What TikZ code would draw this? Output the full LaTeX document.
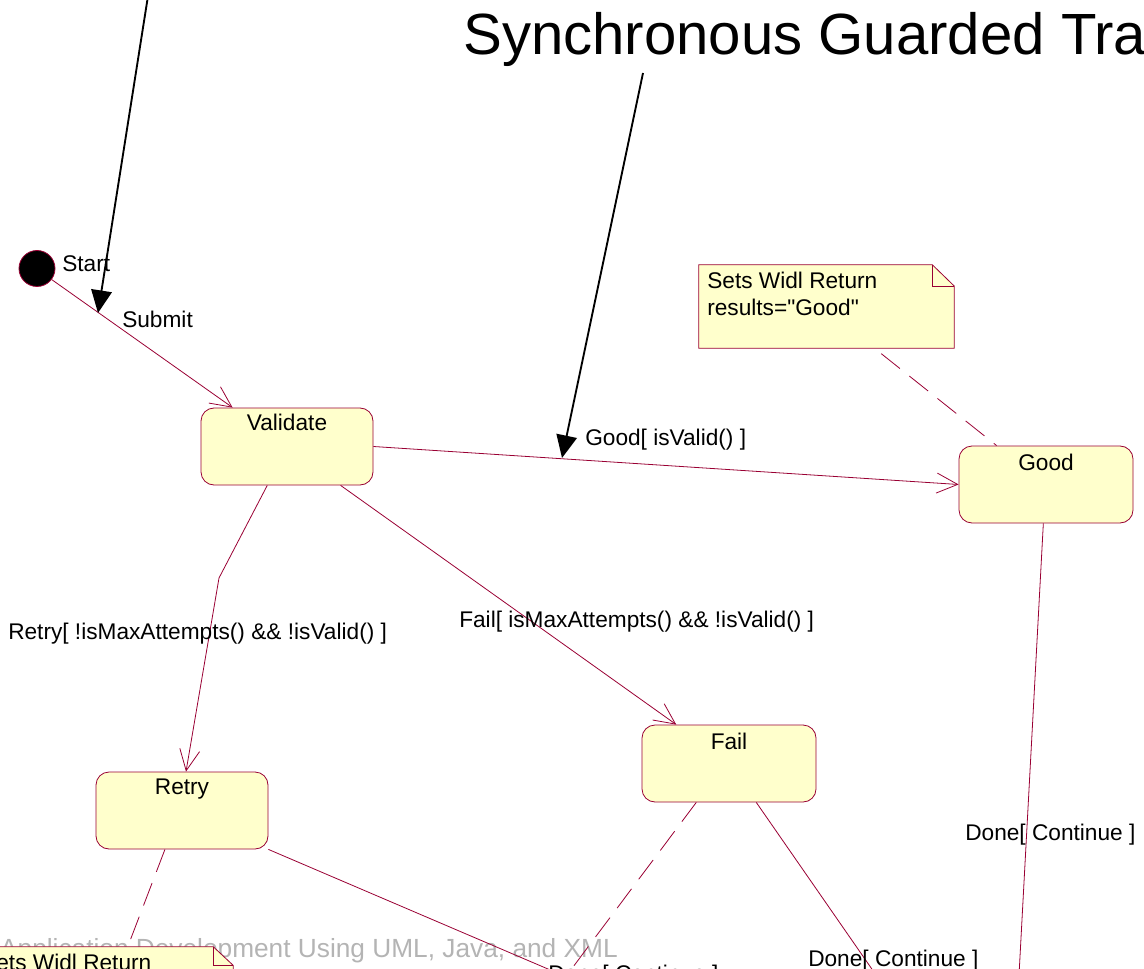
\documentclass[tikz,border=0pt]{standalone}
\usepackage{fontspec}
\setmainfont{Liberation Sans}[Ligatures=TeXOff]
\usetikzlibrary{arrows.meta,calc}
\definecolor{umlline}{RGB}{153,0,51}
\definecolor{umlfill}{RGB}{255,255,204}
\definecolor{wmgray}{RGB}{180,180,180}
\begin{document}
\begin{tikzpicture}[x=0.75pt,y=-0.75pt,
  lbl/.style={inner sep=0pt, font=\fontsize{17}{20}\selectfont, text=black},
  statebox/.style={draw=umlline, fill=umlfill, rounded corners=9.75pt, line width=0.6pt,
    minimum width=129pt, minimum height=57.75pt, inner sep=0pt},
  trans/.style={draw=umlline, line width=0.6pt,
    -{Straight Barb[length=15.75pt,width=15pt]}},
  link/.style={draw=umlline, line width=0.6pt},
  anchorlink/.style={draw=umlline, line width=0.6pt, dash pattern=on 18pt off 9pt},
  notebox/.style={draw=umlline, fill=umlfill, line width=0.6pt},
  notearea/.style={minimum width=191.25pt, minimum height=62.25pt, inner sep=0pt},
  pointer/.style={draw=black, line width=1.4pt, -{Triangle[length=17pt,width=15.5pt]}},
]
\useasboundingbox (0,0) rectangle (1144,969);

% watermark of the slide
\node[anchor=base east, inner sep=0pt, font=\fontsize{19.7}{22}\selectfont, text=wmgray]
  (wm) at (618,957) {Application Development Using UML, Java, and XML};

% slide title
\node[anchor=base west, inner sep=0pt, font=\fontsize{43.6}{50}\selectfont]
  (title) at (463,55) {Synchronous Guarded Transitions};

% states
\node[circle, draw=umlline, fill=black, minimum size=27pt, inner sep=0pt, line width=0.6pt]
  (start) at (37,268.5) {};
\node[statebox] (validate) at (287,446.5) {};
\node[statebox, minimum width=130.5pt] (good) at (1046,484.5) {};
\node[statebox] (retry) at (182,810.5) {};
\node[statebox, minimum width=130.5pt] (fail) at (729,763.5) {};

\node[lbl, anchor=base] (validateName) at (287,430) {Validate};
\node[lbl, anchor=base] (goodName) at (1046,470) {Good};
\node[lbl, anchor=base] (retryName) at (182,794) {Retry};
\node[lbl, anchor=base] (failName) at (729,749) {Fail};
\node[lbl, anchor=base west] (startName) at (62,272) {Start};

% notes
\node[notearea] (note1) at (826.5,306.5) {};
\draw[notebox] (note1.north west) -- ([xshift=-16.5pt]note1.north east)
  -- ([yshift=-16pt]note1.north east) -- (note1.south east) -- (note1.south west) -- cycle;
\draw[link] ([xshift=-16.5pt]note1.north east) |- ([yshift=-16pt]note1.north east);
\node[lbl, anchor=base west] (note1a) at (707,289) {Sets Widl Return};
\node[lbl, anchor=base west] (note1b) at (707,316) {results="Good"};

\node[notearea, minimum width=190.5pt] (note2) at (106,988.5) {};
\draw[notebox] (note2.north west) -- ([xshift=-15pt]note2.north east)
  -- ([yshift=-14pt]note2.north east) -- (note2.south east) -- (note2.south west) -- cycle;
\draw[link] ([xshift=-15pt]note2.north east) |- ([yshift=-14pt]note2.north east);
\node[lbl, anchor=base west] (note2a) at (-19,970) {Sets Widl Return};

% transitions
\draw[trans] (start.-37) -- ([xshift=24pt]validate.north west);
\draw[trans] (validate.east) -- (good.west);
\coordinate (retryBend) at (219,578);
\draw[trans] ([xshift=50pt]validate.south west) -- (retryBend) -- ([xshift=3pt]retry.north);
\draw[trans] ([xshift=105pt]validate.south west) -- ([xshift=26pt]fail.north west);

\coordinate (goodOut) at (1019,975);
\draw[link] ([xshift=-2pt]good.south) -- (goodOut);
\coordinate (failOut) at (876,975);
\draw[link] ([xshift=86pt]fail.south west) -- (failOut);
\coordinate (retryOut) at (562,975);
\draw[link] (retry.south east) -- (retryOut);

% note anchors
\draw[anchorlink] ([xshift=41pt,yshift=-4pt]note1.south) -- ([xshift=28.5pt]good.north west);
\coordinate (failNote) at (567,975);
\draw[anchorlink] ([xshift=41pt]fail.south west) -- (failNote);
\draw[anchorlink] ([xshift=52pt]retry.south west) -- ([xshift=111.75pt]note2.north west);

% transition labels
\node[lbl, anchor=base west] (submitLbl) at (122,328) {Submit};
\node[lbl, anchor=base west] (goodLbl) at (585,445) {Good[ isValid() ]};
\node[lbl, anchor=base west] (retryLbl) at (8,639) {Retry[ !isMaxAttempts() \&\& !isValid() ]};
\node[lbl, anchor=base west] (failLbl) at (459,627) {Fail[ isMaxAttempts() \&\& !isValid() ]};
\node[lbl, anchor=base west] (doneA) at (965,840) {Done[ Continue ]};
\node[lbl, anchor=base west] (doneB) at (808,966) {Done[ Continue ]};
\node[lbl, anchor=base west] (doneC) at (548,981) {Done[ Continue ]};

% pointer arrows
\coordinate (p1a) at (148,-4);
\coordinate (p1b) at (98,313);
\draw[pointer] (p1a) -- (p1b);
\coordinate (p2a) at (643,73);
\coordinate (p2b) at (562,458);
\draw[pointer] (p2a) -- (p2b);
\end{tikzpicture}
\end{document}
